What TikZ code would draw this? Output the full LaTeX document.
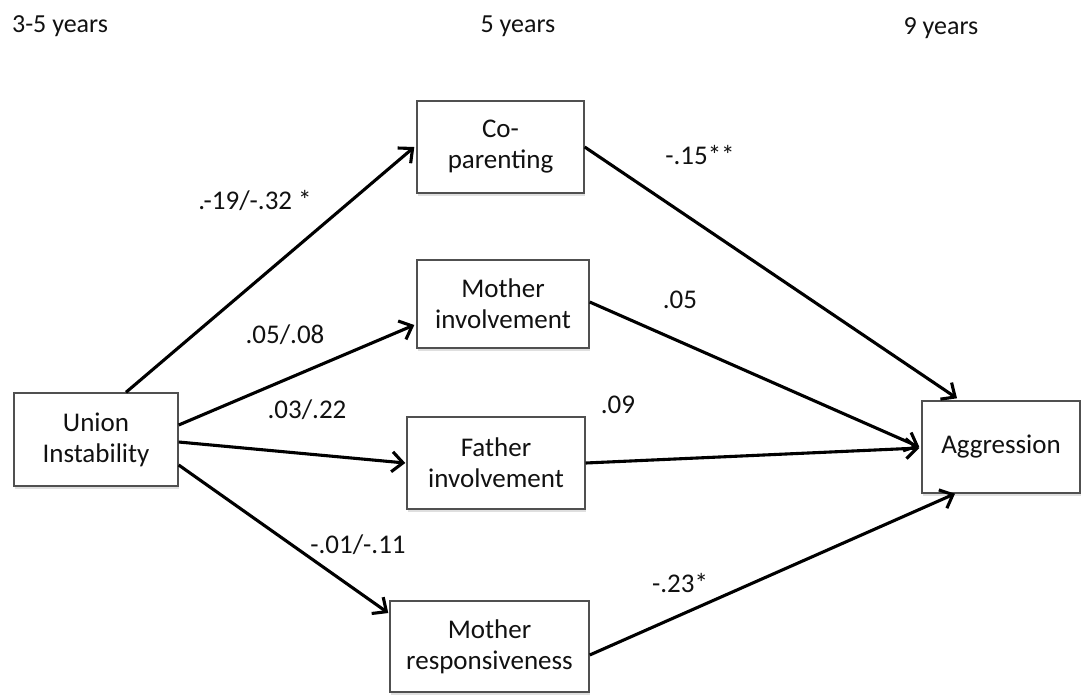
\documentclass[tikz,border=0pt]{standalone}
\usepackage{fontspec}
\setmainfont{Carlito}
\usetikzlibrary{arrows.meta,shadows}
\definecolor{txt}{HTML}{111111}
\definecolor{boxline}{HTML}{505050}
\tikzset{
  varbox/.style={draw=boxline, line width=1.4pt, fill=white, align=center,
    inner sep=0pt, text=txt, font=\fontsize{27}{31}\selectfont,
    drop shadow={shadow xshift=1pt, shadow yshift=-2.5pt, opacity=0.25}},
  path/.style={line width=3.1pt, draw=black,
    -{Straight Barb[length=11pt,width=20pt,line width=3.1pt]}},
  coef/.style={text=txt, font=\fontsize{27}{31}\selectfont, inner sep=0pt},
  wave/.style={text=txt, font=\fontsize{26}{30}\selectfont, inner sep=0pt}
}
\begin{document}
\begin{tikzpicture}[x=1pt,y=-1pt]
\useasboundingbox (0,0) rectangle (1081,694);
% time labels
\node[wave] (t1) at (60,26) {3-5 years};
\node[wave] (t2) at (518,26) {5 years};
\node[wave] (t3) at (941,28) {9 years};
% boxes
\node[varbox, minimum width=164pt, minimum height=93pt] (U) at (96,439.5) {Union\\Instability};
\node[varbox, minimum width=167pt, minimum height=92pt] (C) at (500.5,147) {Co-\\parenting};
\node[varbox, minimum width=172pt, minimum height=88pt] (M) at (503,304) {Mother\\involvement};
\node[varbox, minimum width=178pt, minimum height=92pt] (F) at (496,463) {Father\\involvement};
\node[varbox, minimum width=199pt, minimum height=91pt] (R) at (489.5,646.5) {Mother\\responsiveness};
\node[varbox, minimum width=158pt, minimum height=92pt] (A) at (1001,447) {Aggression};
% paths
\draw[path] ([xshift=30pt]U.north) -- ([xshift=-2pt]C.west);
\draw[path] ([yshift=14.5pt]U.east) -- ([xshift=-2pt,yshift=-21pt]M.west);
\draw[path] ([yshift=-2.5pt]U.east) -- ([xshift=-1pt]F.west);
\draw[path] ([yshift=-25.5pt]U.east) -- ([xshift=-1pt,yshift=33.5pt]R.west);
\draw[path] (C.east) -- ([xshift=-44pt,yshift=2pt]A.north);
\draw[path] ([yshift=2pt]M.east) -- ([xshift=-2pt]A.west);
\draw[path] (F.east) -- ([xshift=-2pt,yshift=-1pt]A.west);
\draw[path] ([yshift=-8.5pt]R.east) -- ([xshift=-46pt]A.south);
% coefficients
\node[coef] (l1) at (255,200) {.-19/-.32 *};
\node[coef] (l2) at (285,335) {.05/.08};
\node[coef] (l3) at (307,410) {.03/.22};
\node[coef] (l4) at (358,545) {-.01/-.11};
\node[coef] (l5) at (700,155) {-.15**};
\node[coef] (l6) at (680,300) {.05};
\node[coef] (l7) at (618,405) {.09};
\node[coef] (l8) at (680,583) {-.23*};
\end{tikzpicture}
\end{document}
